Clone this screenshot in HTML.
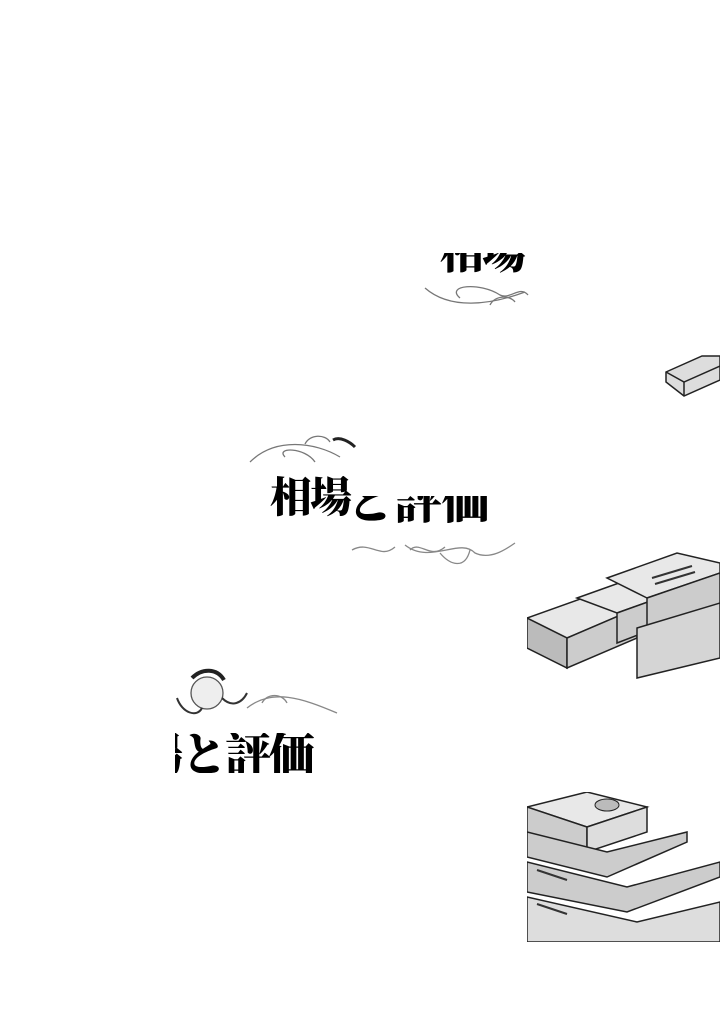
<!DOCTYPE html>
<html><head><meta charset="utf-8"><style>
body{margin:0;background:#fff;width:720px;height:1024px;position:relative;overflow:hidden}
.c{position:absolute;overflow:hidden}
.t{position:absolute;font-family:"Liberation Serif","Noto Serif CJK SC",serif;font-weight:900;color:#000;white-space:nowrap;line-height:1}
svg{position:absolute}
</style></head><body>
<div class="c" style="left:440px;top:253px;width:88px;height:21px"><div class="t" style="left:0px;top:-21px;font-size:44px;letter-spacing:-2px">相場</div></div>
<svg style="left:420px;top:280px" width="110" height="35"><g fill="none" stroke="#777" stroke-width="1.3"><path d="M5 8 C30 30 70 25 105 12"/><path d="M40 18 C25 5 60 2 80 15 C90 20 100 5 108 15"/><path d="M70 25 C75 15 90 15 95 22"/></g></svg>
<svg style="left:662px;top:352px" width="58" height="45"><polygon points="4,20 40,4 58,4 58,28 22,44 4,30" fill="#ddd" stroke="#222" stroke-width="1.5"/><polyline points="4,20 22,30 58,14" fill="none" stroke="#222" stroke-width="1.5"/><line x1="22" y1="30" x2="22" y2="44" stroke="#222" stroke-width="1.5"/></svg>
<svg style="left:245px;top:432px" width="112" height="42"><g fill="none" stroke="#777" stroke-width="1.3"><path d="M5 30 C30 5 70 10 95 25"/><path d="M40 25 C30 15 60 15 70 30"/><path d="M60 12 C65 2 80 2 85 10"/><path d="M88 8 C95 4 105 10 110 15" stroke="#222" stroke-width="3"/></g></svg>
<div class="c" style="left:268px;top:476px;width:84px;height:42px"><div class="t" style="left:2px;top:2px;font-size:42px;letter-spacing:-2px">相場</div></div>
<div class="c" style="left:350px;top:496px;width:142px;height:30px"><div class="t" style="left:-4px;top:-17px;font-size:48px;letter-spacing:0px">と評価</div></div>
<svg style="left:350px;top:535px" width="170" height="40"><g fill="none" stroke="#888" stroke-width="1.3"><path d="M2 15 C20 5 30 25 45 12"/><path d="M55 10 C80 30 110 2 125 18 C140 25 155 15 165 8"/><path d="M90 18 C100 30 115 35 120 15"/><path d="M60 15 C70 5 80 25 95 12"/></g></svg>
<svg style="left:527px;top:548px" width="193" height="135">
<g stroke="#222" stroke-width="1.5" fill="#e8e8e8">
<polygon points="0,70 70,45 110,60 40,90"/><polygon points="0,70 40,90 40,120 0,100" fill="#bbb"/>
<polygon points="40,90 110,60 110,90 40,120" fill="#ccc"/>
<polygon points="50,50 120,25 160,40 90,65"/><polygon points="90,65 160,40 160,68 90,95" fill="#ccc"/>
<polygon points="80,30 150,5 193,15 193,25 120,50"/><polygon points="120,50 193,25 193,60 120,80" fill="#ccc"/>
<polygon points="110,80 193,55 193,110 110,130" fill="#d5d5d5"/>
</g>
<g stroke="#333" stroke-width="2"><line x1="125" y1="30" x2="165" y2="18"/><line x1="128" y1="36" x2="168" y2="24"/></g>
</svg>
<svg style="left:172px;top:668px" width="170" height="60"><g fill="none" stroke="#555" stroke-width="1.3"><circle cx="35" cy="25" r="16" fill="#eee"/><path d="M20 10 C30 0 45 0 52 12" stroke="#222" stroke-width="4"/><path d="M5 30 C10 45 25 50 30 40" stroke="#333" stroke-width="2"/><path d="M50 30 C60 40 70 35 75 25" stroke="#333" stroke-width="2"/><path d="M75 40 C100 20 130 30 165 45" stroke="#888"/><path d="M90 35 C95 25 110 25 115 35" stroke="#888"/></g></svg>
<div class="c" style="left:175px;top:733px;width:142px;height:40px"><div class="t" style="left:-82px;top:0px;font-size:46px;letter-spacing:-2px">相場と評価</div></div>
<svg style="left:527px;top:792px" width="193" height="150">
<g stroke="#222" stroke-width="1.5" fill="#e8e8e8">
<polygon points="0,15 60,0 120,15 60,35"/><polygon points="0,15 60,35 60,60 0,40" fill="#ccc"/>
<polygon points="60,35 120,15 120,40 60,60" fill="#ddd"/>
<polygon points="0,40 80,60 160,40 160,50 80,85 0,65" fill="#ccc"/>
<polygon points="0,70 100,95 193,70 193,85 100,120 0,100" fill="#ccc"/>
<polygon points="0,105 110,130 193,110 193,150 0,150" fill="#ddd"/>
</g>
<ellipse cx="80" cy="13" rx="12" ry="6" fill="#bbb" stroke="#222"/>
<g stroke="#333" stroke-width="2"><line x1="10" y1="78" x2="40" y2="88"/><line x1="10" y1="112" x2="40" y2="122"/></g>
</svg>
</body></html>
